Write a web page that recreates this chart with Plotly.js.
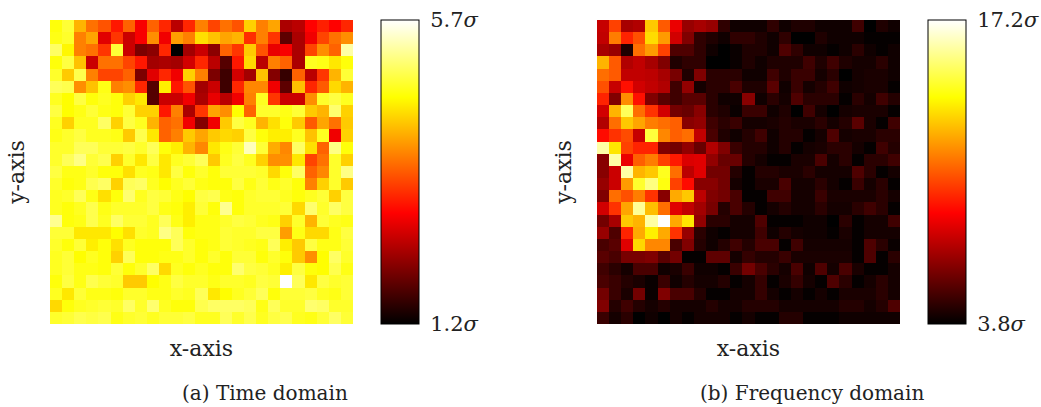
<!DOCTYPE html>
<html><head><meta charset="utf-8">
<script src="https://cdn.plot.ly/plotly-3.0.1.min.js"></script>
<style>html,body{margin:0;padding:0;background:#fff}</style></head>
<body><div id="chart" style="width:1041px;height:407px"></div>
<script>
const timeDomain = [
[4.6,4.8,4.05,3.6,3.4,3.0,3.5,2.8,3.5,3.1,2.4,3.1,3.7,3.3,3.6,3.4,4.25,3.7,3.95,2.3,2.4,2.85,3.05,2.85,3.1],
[4.65,4.75,3.7,3.95,2.65,3.2,2.5,2.8,3.8,2.75,3.9,3.7,4.35,4.15,3.95,4.05,3.15,3.7,3.2,1.8,2.3,2.75,3.3,3.6,3.8],
[5.0,4.5,3.7,3.6,3.2,4.8,2.5,2.0,2.1,3.1,1.2,2.25,2.5,2.1,3.5,3.2,4.2,3.4,2.7,2.8,2.3,3.3,3.8,3.5,5.3],
[4.6,4.85,4.15,2.5,3.6,3.6,3.3,3.0,2.25,2.3,2.25,2.55,3.1,2.4,1.75,3.0,4.3,2.4,3.7,3.5,2.3,4.7,4.65,4.4,4.6],
[4.75,4.2,4.9,3.7,3.3,3.3,3.5,2.0,2.65,3.1,2.75,4.25,3.7,2.0,1.6,2.55,2.25,4.15,2.05,1.55,3.5,2.4,3.2,4.05,4.8],
[4.95,4.9,3.8,4.15,4.65,3.7,3.8,3.1,1.75,4.45,3.0,3.4,2.25,2.5,1.6,3.1,3.75,3.75,2.75,1.8,4.15,3.1,3.45,4.3,4.05],
[4.7,4.55,4.85,4.6,4.7,4.6,4.25,4.4,1.75,2.5,2.5,2.75,2.3,2.7,2.4,2.75,3.7,4.7,3.2,2.5,2.5,3.8,4.75,4.85,4.7],
[4.85,4.55,4.65,4.8,4.65,4.6,4.8,4.25,4.25,3.0,3.7,2.3,3.2,3.95,3.8,4.55,3.5,4.75,4.75,4.65,4.8,4.2,4.05,5.05,4.25],
[4.7,4.25,4.7,4.7,5.0,4.25,4.85,4.7,4.05,3.5,3.6,2.75,2.05,2.75,4.2,4.85,4.7,4.05,4.35,4.6,4.2,3.45,3.95,3.6,4.2],
[4.65,4.75,4.85,4.7,4.7,4.65,4.2,4.9,4.4,3.5,3.7,4.2,3.95,4.2,4.3,4.25,4.85,4.6,4.45,4.45,4.7,4.15,4.7,2.75,4.25],
[4.75,4.75,4.95,4.95,4.8,4.8,4.85,4.75,4.95,4.6,4.45,4.05,3.75,4.4,4.65,4.8,5.4,4.8,4.0,3.75,5.0,4.35,3.5,5.15,4.6],
[4.75,4.95,5.15,4.8,4.9,4.25,4.75,4.4,4.85,4.4,4.7,4.8,4.95,4.2,4.7,4.85,4.7,4.25,3.8,3.8,4.4,3.3,3.6,4.75,4.25],
[4.85,4.65,4.65,4.75,4.6,4.6,4.35,4.7,4.65,4.4,4.85,4.6,4.75,4.6,4.8,4.8,4.8,4.75,4.3,4.6,5.0,3.5,3.75,4.75,5.15],
[4.75,4.6,4.65,4.9,5.0,4.25,4.95,5.0,4.7,4.55,4.7,4.8,4.65,4.6,4.6,4.85,4.65,4.8,4.65,4.75,4.6,3.7,4.25,4.75,4.2],
[4.7,4.75,4.95,4.65,4.35,4.6,5.05,4.7,4.85,4.8,4.65,4.55,4.85,4.9,4.65,4.6,4.75,4.8,4.8,4.7,4.6,4.7,4.8,4.25,4.85],
[4.7,4.6,4.7,4.9,4.65,4.75,4.75,4.75,4.85,4.65,4.6,4.45,4.8,4.6,5.2,4.6,4.75,4.75,4.75,4.8,4.3,5.05,4.75,5.0,4.85],
[5.2,4.6,4.65,4.9,4.7,5.0,4.8,4.8,4.7,4.95,4.65,4.45,4.65,4.65,4.75,4.85,4.8,4.7,4.65,4.25,4.75,4.05,4.8,4.7,4.65],
[4.8,4.8,4.4,4.4,4.4,4.55,4.35,4.75,4.7,5.15,4.95,4.6,4.65,4.65,4.8,4.75,4.75,4.85,4.85,3.9,4.65,4.3,4.3,4.65,4.85],
[4.75,4.6,4.8,4.45,4.6,4.35,4.7,4.6,4.6,4.6,4.95,4.75,4.6,4.65,4.8,4.75,4.7,4.65,4.95,4.45,4.2,4.85,4.65,4.65,4.8],
[4.7,4.8,4.55,4.7,4.6,4.25,4.95,4.6,4.6,4.65,4.65,4.75,4.6,4.75,4.6,4.8,4.8,4.6,4.75,4.6,4.2,3.8,4.55,5.0,4.75],
[4.7,4.8,4.65,4.65,4.6,4.8,4.6,4.75,5.0,4.3,4.7,4.6,4.7,4.6,4.6,5.05,4.85,4.8,4.7,4.45,4.85,4.6,4.55,4.9,4.65],
[4.6,4.85,4.65,4.9,4.8,4.75,4.2,4.2,4.55,4.65,4.85,4.75,4.75,4.65,4.75,4.75,4.7,4.85,4.8,5.7,4.95,4.4,4.85,4.75,4.8],
[4.7,4.4,4.8,4.65,4.65,4.6,4.75,4.75,4.65,4.65,4.75,4.7,4.95,4.4,4.55,4.7,4.8,4.95,4.6,4.8,4.8,4.85,4.7,4.65,4.8],
[4.3,4.6,4.7,4.75,4.8,4.75,5.0,4.75,5.05,4.7,4.6,4.6,4.9,5.0,5.0,5.0,4.95,4.65,4.95,4.75,4.75,5.05,5.0,4.75,4.75],
[4.75,4.8,4.9,4.85,4.9,4.65,4.75,4.8,4.7,4.8,4.8,4.85,4.7,4.7,4.95,4.75,4.9,4.7,4.85,4.9,4.7,4.65,4.8,5.0,4.8]
];
const frequencyDomain = [
[7.6,10,7.0,7.2,12.7,10.5,8.3,6.7,7.0,6.7,4.7,4.1,4.1,4.1,4.7,4.1,4.4,4.4,4.1,4.1,4.1,5.0,3.8,4.4,4.1],
[7.5,11.2,9.4,10.3,13.1,11.8,7.8,6.25,4.7,4.4,4.1,4.7,4.7,4.4,4.1,4.7,3.8,3.8,4.4,4.1,4.1,4.1,3.9,3.9,3.9],
[7.0,6.7,4.4,10.9,11.8,10,5.3,5.3,4.7,4.1,3.8,4.0,4.4,4.4,4.1,5.3,4.7,4.1,4.1,3.9,4.1,4.6,4.1,3.9,4.1],
[12.3,10.5,7.2,7.5,7.0,6.25,4.4,4.7,4.7,3.8,3.8,4.0,4.4,4.1,4.4,4.4,4.4,5.0,4.4,5.0,4.4,4.2,4.2,4.6,4.1],
[10.9,10.5,7.5,7.5,7.4,7.0,6.1,4.4,6.25,4.6,4.6,4.6,4.1,4.1,5.0,4.4,4.9,4.9,4.2,4.6,3.8,4.2,4.3,4.3,4.1],
[10.3,7.6,9.0,7.8,7.5,7.2,5.0,6.6,4.2,4.6,4.6,5.2,4.4,4.4,5.5,4.1,4.9,4.2,4.5,5.0,4.1,4.2,4.3,4.3,3.9],
[9.4,6.25,11.5,9.0,6.25,5.5,5.0,5.5,5.5,4.6,4.1,4.1,6.4,4.1,4.6,4.2,5.3,4.6,4.6,4.6,3.9,4.6,4.2,5.0,4.5],
[7.8,12.3,15,10.9,9.7,7.8,6.0,5.8,6.4,4.6,4.4,4.0,4.9,4.9,4.1,4.4,3.8,5.0,4.2,3.8,4.2,4.3,4.3,4.3,3.9],
[7.2,10.9,12.7,12.0,11.2,10.9,10.6,6.4,6.6,5.0,4.6,4.9,4.2,4.2,4.3,4.5,4.3,4.3,4.6,4.2,4.5,5.5,4.3,3.9,5.0],
[8.9,9.7,10.2,7.6,14.6,11.4,10.6,10.9,7.5,5.2,4.4,4.1,4.5,5.0,4.1,4.5,4.5,3.9,4.2,5.3,4.2,4.3,4.3,4.6,4.6],
[16,13.3,10,9.4,9.4,6.25,6.0,6.6,5.8,7.2,6.25,4.9,4.5,4.5,4.1,4.5,3.9,4.2,4.3,4.6,4.6,4.2,3.9,5.0,4.5],
[6.4,16,8.3,10.6,11.2,10,9.2,8.0,8.1,6.6,5.8,5.8,4.5,4.2,3.9,3.9,4.3,4.3,5.2,4.2,4.6,3.9,4.6,4.6,5.0],
[6.4,7.7,16,12.3,12.7,14.2,10.9,7.4,8.1,6.0,6.0,4.5,3.9,4.5,4.5,4.3,4.3,4.6,4.2,4.2,4.2,5.3,4.6,3.9,4.2],
[6.7,7.7,11.8,14.4,15.5,14,10,8.9,6.4,6.4,6.0,4.2,3.9,4.3,4.3,5.2,4.2,4.2,4.6,4.2,3.9,4.9,4.2,4.6,3.9],
[6.25,10.9,10.3,11.2,9.7,6.4,12.1,12.7,7.4,6.25,6.0,5.2,3.9,3.9,5.0,5.0,4.2,4.2,4.9,4.3,4.3,4.3,4.3,4.6,4.2],
[7.8,9.7,12,15.8,12.5,10.9,8.1,7.5,6.9,6.1,4.5,5.2,4.5,3.9,4.2,4.5,4.2,4.2,4.6,4.2,4.2,4.6,5.0,4.6,3.9],
[6.0,7.0,12.7,12.3,16,17.2,12.1,13.3,6.6,4.6,4.6,4.2,4.2,5.3,3.9,3.9,3.9,4.1,4.1,3.8,4.6,3.9,4.2,4.2,5.0],
[6.7,5.3,9.4,12.1,13.5,12.1,9.7,6.7,4.6,4.1,3.9,4.2,4.2,5.0,4.1,4.5,4.2,4.1,4.1,3.9,4.3,3.9,4.2,4.2,4.2],
[5.2,5.5,8.1,13,11.4,11.4,5.2,6.25,4.5,4.1,4.5,5.0,4.5,5.2,5.2,3.9,5.0,4.2,4.2,4.2,4.2,3.9,5.3,4.6,4.0],
[5.5,5.2,6.1,6.1,6.25,5.5,6.0,3.9,3.9,5.6,5.6,4.2,4.8,4.5,4.5,4.9,4.3,4.3,4.3,4.3,4.3,3.9,5.3,3.9,4.6],
[5.0,4.6,4.2,5.2,5.2,4.1,4.3,4.9,4.1,4.1,3.9,4.9,6.0,5.2,4.6,4.2,5.2,4.1,5.3,4.2,5.2,4.3,3.9,3.9,4.2],
[5.2,4.9,4.5,4.3,4.0,4.9,4.1,4.5,4.2,4.2,4.5,3.9,4.2,4.8,3.9,4.3,4.8,4.2,3.9,5.3,4.6,3.9,4.2,4.6,4.2],
[6.0,4.9,4.3,6.0,4.0,6.25,5.2,5.2,4.5,3.9,3.9,4.2,4.2,4.8,4.2,3.9,4.2,3.9,4.2,3.9,4.3,4.3,4.3,4.6,4.2],
[6.25,4.5,5.0,4.5,4.2,4.5,4.2,4.2,4.2,4.5,4.2,4.2,4.5,4.5,4.5,4.2,4.2,4.2,4.2,4.2,4.5,4.5,4.2,4.5,5.3],
[4.9,4.2,4.6,3.8,4.1,3.8,4.2,3.9,4.2,4.2,4.2,3.9,4.2,3.9,3.9,4.5,4.5,3.9,3.9,3.9,4.1,4.1,4.1,4.1,4.1]
];
const timeRange = [1.2, 5.7];
const frequencyRange = [3.8, 17.2];
const captions = ['(a) Time domain', '(b) Frequency domain'];
const axisX = 'x-axis', axisY = 'y-axis';

const W = 1041, H = 407;
const fontFam = '"DejaVu Serif", serif';
const hot = [[0,'#000000'],[0.365,'#ff0000'],[0.746,'#ffff00'],[1,'#ffffff']];
const yTop = 1 - 20/H, yBottom = 1 - 324/H;
const fmt = v => v.toFixed(1) + '<i>σ</i>';

function hm(z, range, xa, ya, cbx) {
  return {type:'heatmap', z, xaxis:xa, yaxis:ya, zmin:range[0], zmax:range[1], colorscale:hot,
    hoverinfo:'skip', xgap:0, ygap:0,
    colorbar:{x:cbx/W, xref:'paper', xanchor:'left', y:yTop, yref:'paper', yanchor:'top',
      len:304, lenmode:'pixels', thickness:38, thicknessmode:'pixels', xpad:0, ypad:0,
      outlinecolor:'#000', outlinewidth:1, tickmode:'array', tickvals:range, ticktext:range.map(fmt),
      ticks:'outside', ticklen:7, tickcolor:'rgba(0,0,0,0)', tickwidth:1,
      tickfont:{family:fontFam, size:21, color:'#222'}}};
}
function ax(domain, title, anchor, rev, standoff) {
  const a = {domain, anchor, showgrid:false, zeroline:false, showticklabels:false, ticks:'', showline:false,
    title:{text:title, font:{family:fontFam, size:22, color:'#222'}, standoff}};
  if (rev) a.autorange = 'reversed';
  return a;
}
const layout = {
  width:W, height:H, paper_bgcolor:'#fff', plot_bgcolor:'#fff', showlegend:false,
  margin:{l:0,r:0,t:0,b:0,autoexpand:false},
  xaxis: ax([50/W,353/W], axisX, 'y', false, 16),
  yaxis: ax([yBottom,yTop], axisY, 'x', true, 18),
  xaxis2: ax([597/W,900/W], axisX, 'y2', false, 16),
  yaxis2: ax([yBottom,yTop], axisY, 'x2', true, 18),
  annotations:[
    {text:captions[0], x:265/W, y:1-393/H, xref:'paper', yref:'paper', showarrow:false, xanchor:'center', yanchor:'middle', font:{family:fontFam,size:20,color:'#222'}},
    {text:captions[1], x:812/W, y:1-393/H, xref:'paper', yref:'paper', showarrow:false, xanchor:'center', yanchor:'middle', font:{family:fontFam,size:20,color:'#222'}}
  ]
};
Plotly.newPlot('chart',[hm(timeDomain,timeRange,'x','y',381),hm(frequencyDomain,frequencyRange,'x2','y2',928)],layout,{staticPlot:true,displayModeBar:false});
</script></body></html>
